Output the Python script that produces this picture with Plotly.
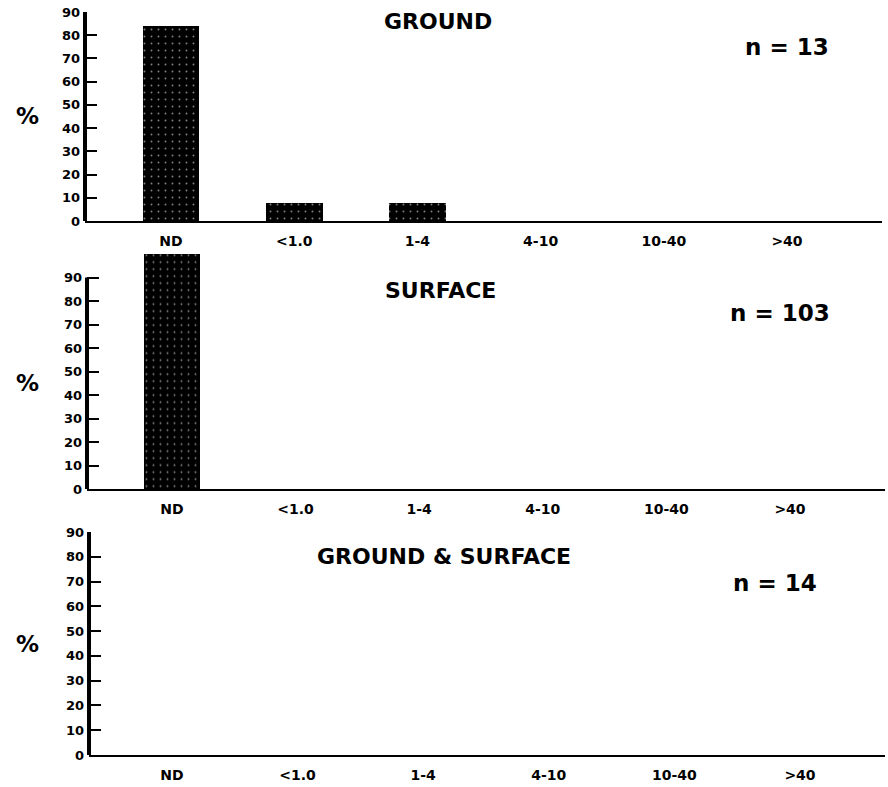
import plotly.graph_objects as go

# ---- data ----
categories = ["ND", "<1.0", "1-4", "4-10", "10-40", ">40"]
ground = [84, 7.7, 7.7, 0, 0, 0]
surface = [100, 0, 0, 0, 0, 0]
ground_surface = [0, 0, 0, 0, 0, 0]
panel_titles = ["GROUND", "SURFACE", "GROUND & SURFACE"]
panel_n = ["n = 13", "n = 103", "n = 14"]
y_ticks = [0, 10, 20, 30, 40, 50, 60, 70, 80, 90]

W, H = 888, 787
FONT = "DejaVu Sans"


def px(x):
    return min(max(x / W, 0), 1)


def py(y):
    return min(max(1 - y / H, 0), 1)


# panel geometry (page pixels)
panels = [
    dict(left=85, right=882, y0=221, y90=12, ytop=90, nd=171, sp=123.2),
    dict(left=87, right=885, y0=489, y90=277.5, ytop=101, nd=172, sp=123.6),
    dict(left=89, right=885, y0=755, y90=532, ytop=90, nd=172, sp=125.6),
]
series = [ground, surface, ground_surface]

fig = go.Figure()
xs = list(range(len(categories)))

annotations = []
shapes = []
for i, (p, vals) in enumerate(zip(panels, series), start=1):
    xa = "x" if i == 1 else f"x{i}"
    ya = "y" if i == 1 else f"y{i}"
    unit = (p["y0"] - p["y90"]) / 90.0
    ytop_px = p["y0"] - p["ytop"] * unit
    xr0 = (p["left"] - p["nd"]) / p["sp"]
    xr1 = (p["right"] - p["nd"]) / p["sp"]
    fig.add_trace(go.Bar(
        x=xs, y=vals, xaxis=xa, yaxis=ya, width=0.46,
        marker=dict(color="#000000", line=dict(width=0),
                    pattern=dict(shape=".", fgcolor="#ffffff", bgcolor="#000000",
                                 size=7, solidity=0.06)),
        showlegend=False, hoverinfo="skip",
    ))
    xkey = "xaxis" if i == 1 else f"xaxis{i}"
    ykey = "yaxis" if i == 1 else f"yaxis{i}"
    fig.update_layout(**{
        xkey: dict(domain=[px(p["left"]), px(p["right"])], anchor=ya,
                   range=[xr0, xr1], tickvals=xs, ticktext=categories,
                   showline=True, linecolor="black", linewidth=1.5,
                   showgrid=False, zeroline=False, ticks="",
                   ticklabelstandoff=6, automargin=False,
                   tickfont=dict(family=FONT, size=14, color="black", weight="bold"),
                   fixedrange=True),
        ykey: dict(domain=[py(p["y0"]), py(ytop_px)], anchor=xa,
                   range=[0, p["ytop"]], tickvals=y_ticks,
                   ticktext=[str(t) for t in y_ticks],
                   showline=False, showgrid=False, zeroline=False,
                   ticks="inside", ticklen=12, tickwidth=1.5, tickcolor="black",
                   ticklabelstandoff=4, automargin=False,
                   tickfont=dict(family=FONT, size=13, color="black", weight="bold"),
                   fixedrange=True),
    })
    # thick y-axis line from 0 to 90
    shapes.append(dict(type="line", xref=f"{xa} domain", yref=ya,
                       x0=0, x1=0, y0=0, y1=90,
                       line=dict(color="black", width=4)))
    # % label
    annotations.append(dict(text="%", xref="paper", yref="paper",
                            x=px(27), y=py(p["y0"] - 45 * unit), showarrow=False,
                            xanchor="center", yanchor="middle",
                            font=dict(family=FONT, size=23, color="black", weight="bold")))

title_pos = [(438, 22), (440, 290), (444, 556)]
n_pos = [(787, 47), (780, 313), (775, 583)]
for t, (x, y) in zip(panel_titles, title_pos):
    annotations.append(dict(text=t, xref="paper", yref="paper", x=px(x), y=py(y),
                            showarrow=False, xanchor="center", yanchor="middle",
                            font=dict(family=FONT, size=22, color="black", weight="bold")))
for t, (x, y) in zip(panel_n, n_pos):
    annotations.append(dict(text=t, xref="paper", yref="paper", x=px(x), y=py(y),
                            showarrow=False, xanchor="center", yanchor="middle",
                            font=dict(family=FONT, size=23, color="black", weight="bold")))

fig.update_layout(width=W, height=H, margin=dict(l=0, r=0, t=0, b=0, autoexpand=False),
                  paper_bgcolor="white", plot_bgcolor="white",
                  annotations=annotations, shapes=shapes, bargap=0)

fig.write_html("out.html", config={"displayModeBar": False},
               post_script="document.body.style.margin='0px';")
